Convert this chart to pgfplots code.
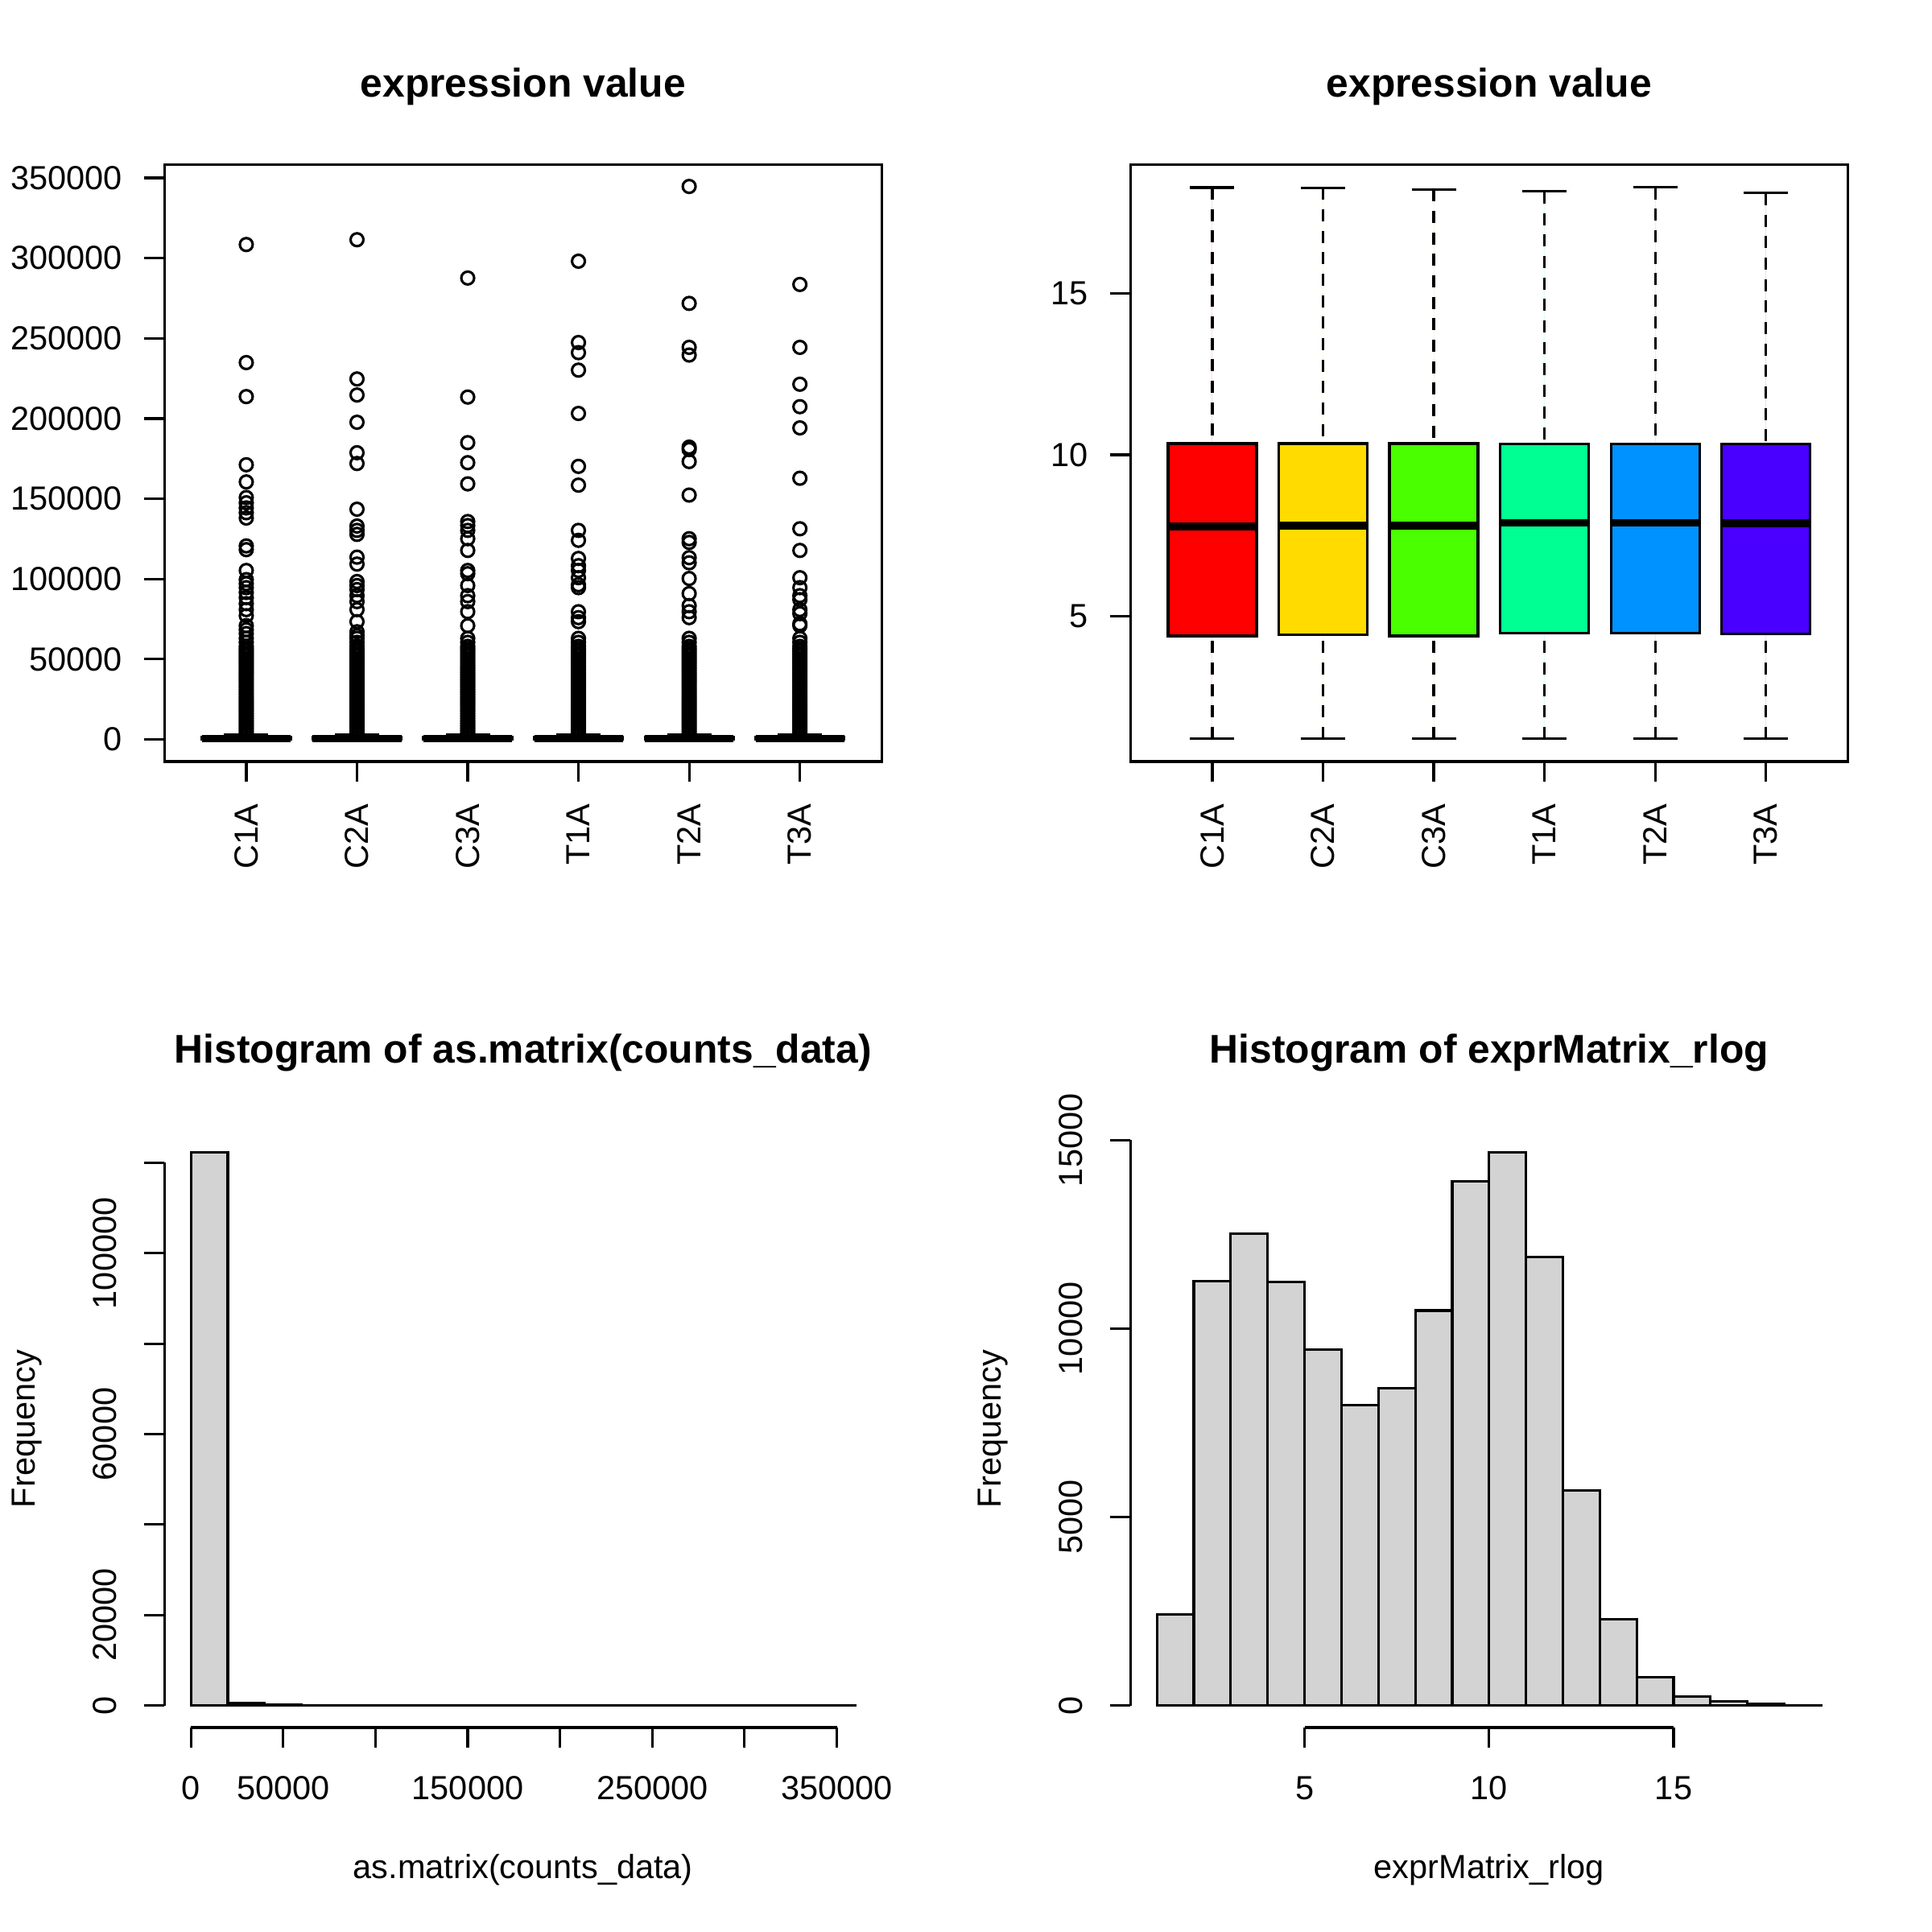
\documentclass[border=0pt]{standalone}
\usepackage{pgfplots}
\pgfplotsset{compat=1.18}
\usepgfplotslibrary{statistics}
\usepackage{pgfplotstable}
\usepackage{fontspec}
\setmainfont{Liberation Sans}

\definecolor{histgray}{HTML}{D3D3D3}
\definecolor{rA}{HTML}{FF0000}
\definecolor{rB}{HTML}{FFDB00}
\definecolor{rC}{HTML}{49FF00}
\definecolor{rD}{HTML}{00FF92}
\definecolor{rE}{HTML}{0092FF}
\definecolor{rF}{HTML}{4900FF}

\newcommand{\labfont}{\fontsize{9.96bp}{12bp}\selectfont}
\newcommand{\ttlfont}{\bfseries\fontsize{11.95bp}{14bp}\selectfont}

% dense part of the outlier columns (solid black in the reference)
\pgfplotstableread{
v
4000
5500
7000
8500
10000
11500
13000
14500
16000
17500
19000
20500
22000
23500
25000
26500
28000
29500
31000
32500
34000
35500
37000
38500
40000
41500
43000
44500
46000
47500
49000
50500
52000
53500
55000
56500
58000
60500
63000
}\densecol

\pgfplotsset{
  rpanel/.style={
    scale only axis, width=213.9bp, height=178.04bp,
    anchor=south west,
    axis line style={line width=0.75bp, black},
    major tick style={line width=0.75bp, black},
    tick align=outside, major tick length=5.98bp,
    scaled ticks=false,
    every axis title/.style={at={(axis description cs:0.5,1.1129)}, anchor=base, font=\ttlfont, inner sep=0pt},
    every axis x label/.style={at={(axis description cs:0.5,-0.2528)}, anchor=base, font=\labfont, inner sep=0pt},
    every axis y label/.style={at={(axis description cs:-0.18,0.5)}, rotate=90, anchor=base, font=\labfont, inner sep=0pt},
    tick label style={font=\labfont, inner sep=0pt},
  },
  boxplot/draw direction=y,
  boxplot/box extend=0.8,
  boxplot/whisker extend=0.4,
  boxplot/every median/.style={line width=2.25bp},
  boxplot/draw/lower whisker/.code={
    \draw[line width=0.75bp, dash pattern=on 3.6bp off 2.8bp]
      (boxplot box cs:\pgfplotsboxplotvalue{lower whisker},0.5) --
      (boxplot box cs:\pgfplotsboxplotvalue{lower quartile},0.5);
    \draw[line width=0.75bp]
      (boxplot whisker cs:\pgfplotsboxplotvalue{lower whisker},0) --
      (boxplot whisker cs:\pgfplotsboxplotvalue{lower whisker},1);
  },
  boxplot/draw/upper whisker/.code={
    \draw[line width=0.75bp, dash pattern=on 3.6bp off 2.8bp]
      (boxplot box cs:\pgfplotsboxplotvalue{upper whisker},0.5) --
      (boxplot box cs:\pgfplotsboxplotvalue{upper quartile},0.5);
    \draw[line width=0.75bp]
      (boxplot whisker cs:\pgfplotsboxplotvalue{upper whisker},0) --
      (boxplot whisker cs:\pgfplotsboxplotvalue{upper whisker},1);
  },
  outl/.style={only marks, mark=o, mark size=1.92bp, black, mark options={line width=0.75bp}},
}

\begin{document}
\begin{tikzpicture}
\useasboundingbox (0,0) rectangle (576bp,576bp);

% ---------------- top left: raw counts boxplot ----------------
\begin{axis}[rpanel, at={(49bp,348.96bp)},
  title={expression value},
  xmin=0.26, xmax=6.74, ymin=-13788, ymax=358488,
  tick pos=left,
  xtick={1,2,3,4,5,6}, xticklabels={C1A,C2A,C3A,T1A,T2A,T3A},
  xticklabel style={rotate=90, anchor=east}, xticklabel shift=6.4bp,
  ytick={0,50000,100000,150000,200000,250000,300000,350000},
  yticklabels={0,50000,100000,150000,200000,250000,300000,350000},
  yticklabel style={anchor=east}, yticklabel shift=6.4bp,
]
\pgfplotsinvokeforeach{1,...,6}{
  \addplot[outl] table[x expr=#1, y=v] {\densecol};
}
\addplot[outl] coordinates {(1,308500) (1,234900) (1,213700) (1,171200) (1,160500) (1,150800) (1,147500) (1,144300) (1,141300) (1,138000) (1,120600) (1,118300) (1,105300) (1,99600) (1,97100) (1,94600) (1,91600) (1,88400) (1,84600) (1,80900) (1,77100) (1,70900) (1,68400) (1,66000)};
\addplot[outl] coordinates {(2,311500) (2,224700) (2,214700) (2,197700) (2,178700) (2,172000) (2,143500) (2,133000) (2,130300) (2,127800) (2,113600) (2,109300) (2,98400) (2,95900) (2,93400) (2,89600) (2,85900) (2,80900) (2,73400) (2,67100) (2,64700)};
\addplot[outl] coordinates {(3,287600) (3,213400) (3,185000) (3,172500) (3,159300) (3,135800) (3,133300) (3,130300) (3,125100) (3,117800) (3,105300) (3,103300) (3,95900) (3,89600) (3,85900) (3,79600) (3,70900)};
\addplot[outl] coordinates {(4,298100) (4,247400) (4,241100) (4,230200) (4,203200) (4,170200) (4,158500) (4,130300) (4,124100) (4,112800) (4,108300) (4,105300) (4,100800) (4,96400) (4,94600) (4,79600) (4,75900) (4,73400)};
\addplot[outl] coordinates {(5,344700) (5,271800) (5,244400) (5,239600) (5,182200) (5,180700) (5,173200) (5,152300) (5,125100) (5,122800) (5,113300) (5,110100) (5,100300) (5,90900) (5,83400) (5,79600) (5,75900)};
\addplot[outl] coordinates {(6,283600) (6,244400) (6,221400) (6,207400) (6,194200) (6,162800) (6,131300) (6,117800) (6,100800) (6,94600) (6,89600) (6,87100) (6,80900) (6,78400) (6,72100) (6,70900)};
\pgfplotsinvokeforeach{1,...,6}{
  \addplot[draw=black, fill=white, line width=0.75bp, boxplot prepared={draw position=#1, lower whisker=0, lower quartile=30, median=350, upper quartile=1300, upper whisker=3000}] coordinates {};
}
\end{axis}

% ---------------- top right: rlog boxplot ----------------
\begin{axis}[rpanel, at={(337bp,348.96bp)},
  title={expression value},
  xmin=0.26, xmax=6.74, ymin=0.5, ymax=19.0,
  tick pos=left,
  xtick={1,2,3,4,5,6}, xticklabels={C1A,C2A,C3A,T1A,T2A,T3A},
  xticklabel style={rotate=90, anchor=east}, xticklabel shift=6.4bp,
  ytick={5,10,15}, yticklabels={5,10,15},
  yticklabel style={anchor=east}, yticklabel shift=6.4bp,
]
\addplot[draw=black, fill=rA, line width=0.75bp, boxplot prepared={draw position=1, lower whisker=1.20, lower quartile=4.39, median=7.78, upper quartile=10.35, upper whisker=18.28}] coordinates {};
\addplot[draw=black, fill=rB, line width=0.75bp, boxplot prepared={draw position=2, lower whisker=1.20, lower quartile=4.42, median=7.81, upper quartile=10.35, upper whisker=18.27}] coordinates {};
\addplot[draw=black, fill=rC, line width=0.75bp, boxplot prepared={draw position=3, lower whisker=1.20, lower quartile=4.39, median=7.81, upper quartile=10.35, upper whisker=18.22}] coordinates {};
\addplot[draw=black, fill=rD, line width=0.75bp, boxplot prepared={draw position=4, lower whisker=1.20, lower quartile=4.47, median=7.90, upper quartile=10.33, upper whisker=18.16}] coordinates {};
\addplot[draw=black, fill=rE, line width=0.75bp, boxplot prepared={draw position=5, lower whisker=1.20, lower quartile=4.47, median=7.90, upper quartile=10.33, upper whisker=18.29}] coordinates {};
\addplot[draw=black, fill=rF, line width=0.75bp, boxplot prepared={draw position=6, lower whisker=1.20, lower quartile=4.46, median=7.88, upper quartile=10.33, upper whisker=18.11}] coordinates {};
\end{axis}

% ---------------- bottom left: histogram of counts ----------------
\begin{axis}[rpanel, at={(49bp,60.96bp)},
  title={Histogram of as.matrix(counts\_data)},
  xlabel={as.matrix(counts\_data)}, ylabel={Frequency},
  xmin=-14400, xmax=374400, ymin=-4892, ymax=127182,
  axis x line*=bottom, axis y line*=left,
  x axis line style={-, shorten <=7.922bp, shorten >=13.424bp},
  y axis line style={-, shorten <=6.593bp, shorten >=9.679bp},
  xtick={0,50000,100000,150000,200000,250000,300000,350000},
  xticklabels={0,50000,,150000,,250000,,350000},
  xticklabel style={anchor=base}, xticklabel shift=15.6bp,
  ytick={0,20000,40000,60000,80000,100000,120000},
  yticklabels={0,20000,,60000,,100000,},
  yticklabel style={rotate=90, anchor=base}, yticklabel shift=8.4bp,
]
\addplot[ybar interval, fill=histgray, draw=black, line width=0.75bp] coordinates {
(0,122290) (20000,560) (40000,230) (60000,40) (80000,25) (100000,12) (120000,10) (140000,10) (160000,6) (180000,4) (200000,5) (220000,6) (240000,5) (260000,1) (280000,3) (300000,3) (320000,0) (340000,1) (360000,0)};
\end{axis}

% ---------------- bottom right: histogram of rlog ----------------
\begin{axis}[rpanel, at={(337bp,60.96bp)},
  title={Histogram of exprMatrix\_rlog},
  xlabel={exprMatrix\_rlog}, ylabel={Frequency},
  xmin=0.28, xmax=19.72, ymin=-587, ymax=15260,
  axis x line*=bottom, axis y line*=left,
  x axis line style={-, shorten <=51.93bp, shorten >=51.93bp},
  y axis line style={-, shorten <=6.593bp, shorten >=2.92bp},
  xtick={5,10,15}, xticklabels={5,10,15},
  xticklabel style={anchor=base}, xticklabel shift=15.6bp,
  ytick={0,5000,10000,15000}, yticklabels={0,5000,10000,15000},
  yticklabel style={rotate=90, anchor=base}, yticklabel shift=8.4bp,
]
\addplot[ybar interval, fill=histgray, draw=black, line width=0.75bp] coordinates {
(1,2418) (2,11264) (3,12516) (4,11231) (5,9444) (6,7963) (7,8410) (8,10479) (9,13900) (10,14673) (11,11895) (12,5708) (13,2288) (14,741) (15,229) (16,109) (17,44) (18,8) (19,0)};
\end{axis}
\end{tikzpicture}
\end{document}
